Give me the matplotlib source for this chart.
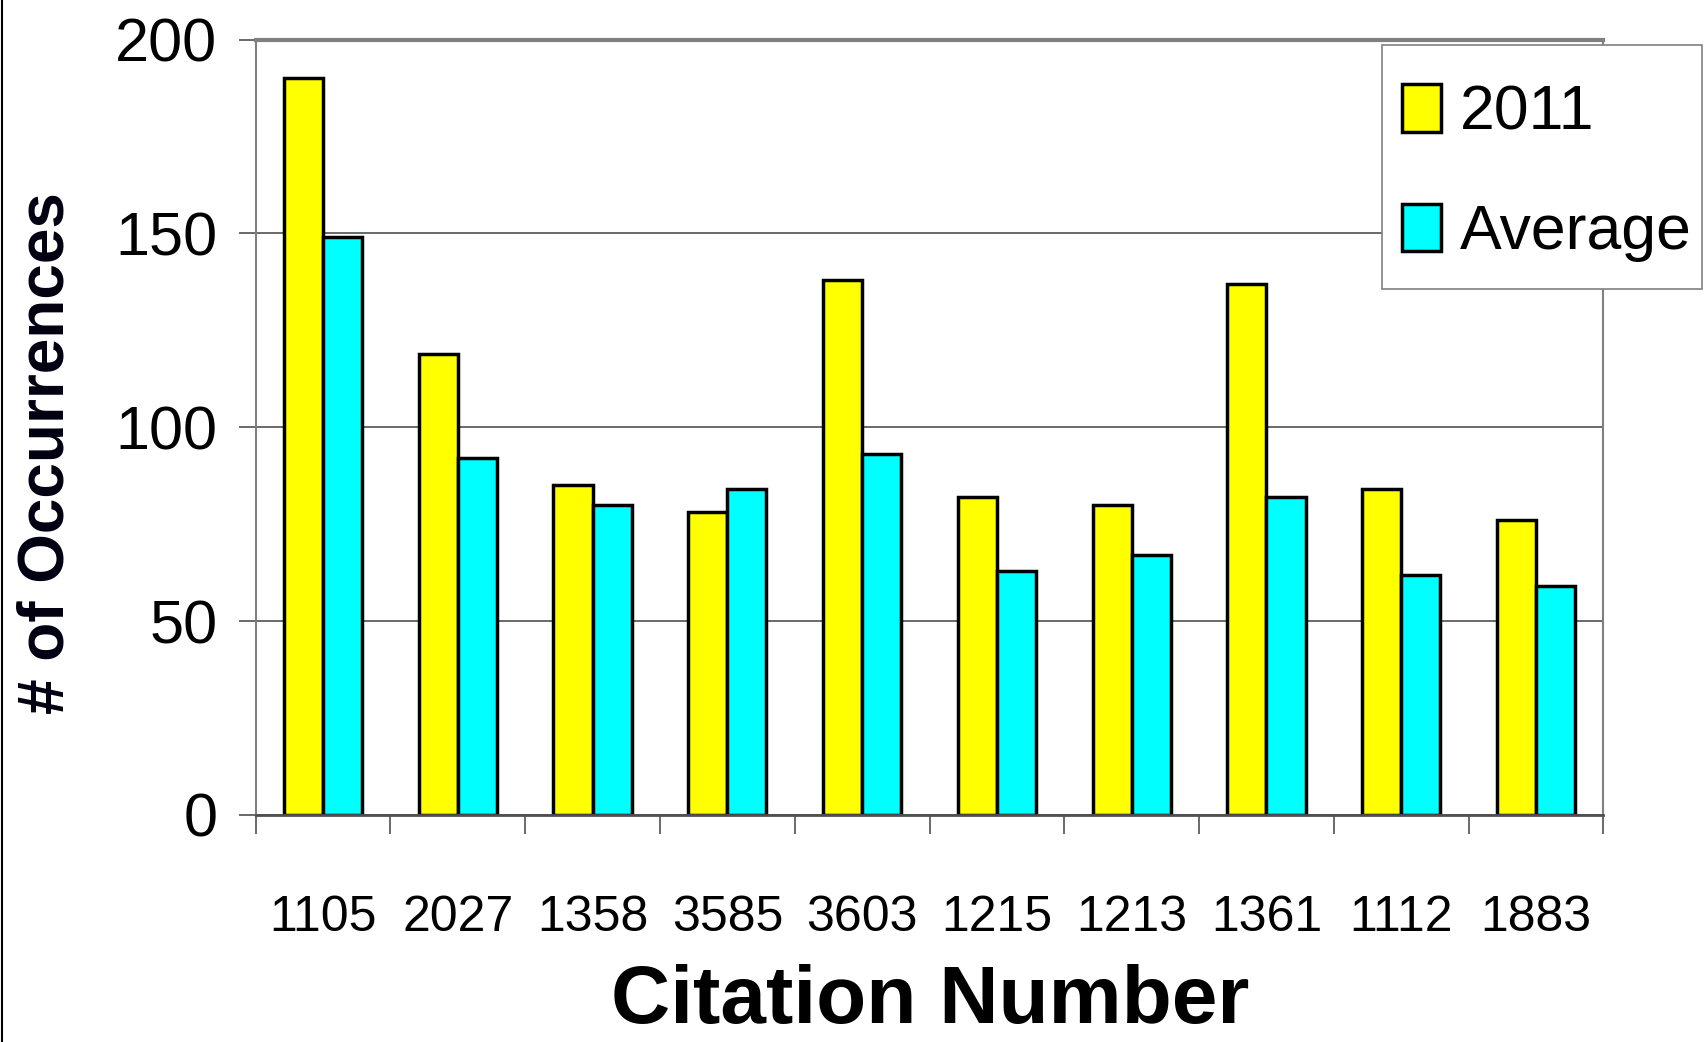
import numpy as np
import matplotlib
matplotlib.use("Agg")
import matplotlib.pyplot as plt
from matplotlib.lines import Line2D
from matplotlib.patches import Rectangle

# ---------- data ----------
citations = ["1105", "2027", "1358", "3585", "3603", "1215", "1213", "1361", "1112", "1883"]
occ_2011 = [190, 119, 85, 78, 138, 82, 80, 137, 84, 76]
occ_avg = [149, 92, 80, 84, 93, 63, 67, 82, 62, 59]
series_names = ["2011", "Average"]
yticks = [0, 50, 100, 150, 200]

plt.rcParams["font.family"] = ["Liberation Sans", "DejaVu Sans"]

fig = plt.figure(figsize=(17.04, 10.42), dpi=100)
ax = fig.add_axes([0.150, 0.218, 0.791, 0.744])

x = np.arange(len(citations))
w = 0.29
b1 = ax.bar(x - w / 2, occ_2011, w, color="#FFFF00", edgecolor="black", linewidth=2.5,
            label=series_names[0], zorder=3)
b2 = ax.bar(x + w / 2, occ_avg, w, color="#00FFFF", edgecolor="black", linewidth=2.5,
            label=series_names[1], zorder=3)

ax.set_xlim(-0.5, len(citations) - 0.5)
ax.set_ylim(0, 200)
ax.set_yticks(yticks)
ax.set_yticklabels([str(t) for t in yticks])
ax.yaxis.grid(True, color="#505050", linewidth=1.2, zorder=0)

# category labels in the middle, tick marks on the boundaries
ax.set_xticks(x)
ax.set_xticklabels(citations)
ax.set_xticks(np.arange(len(citations) + 1) - 0.5, minor=True)
ax.tick_params(axis="x", which="major", length=0, pad=58, labelsize=36)
ax.tick_params(axis="x", which="minor", length=14, width=1.2, color="#505050", direction="out")
ax.tick_params(axis="y", length=12.5, width=1.2, color="#505050", pad=15, labelsize=44)

for s in ["left", "right"]:
    ax.spines[s].set_color("#808080")
    ax.spines[s].set_linewidth(1.5)
ax.spines["top"].set_color("#808080")
ax.spines["top"].set_linewidth(3)
ax.spines["bottom"].set_color("#505050")
ax.spines["bottom"].set_linewidth(2)
ax.spines["bottom"].set_zorder(4)

fig.text(0.546, 0.038, "Citation Number", ha="center", va="center",
         fontsize=59, fontweight="bold")
fig.text(0.027, 0.565, "# of Occurrences", ha="center", va="center", rotation=90,
         fontsize=46, fontweight="bold", color="#000010")

# legend box (runs off the right edge, as in the original)
fig.add_artist(Rectangle((0.811, 0.723), 0.188, 0.234, transform=fig.transFigure,
                         facecolor="white", edgecolor="#808080", linewidth=1.2, zorder=4))
leg = fig.legend(handles=[b1, b2], loc="center left", bbox_to_anchor=(0.8228, 0.834),
                 fontsize=45, frameon=False,
                 handlelength=0.63, handleheight=0.8, handletextpad=0.3,
                 labelspacing=0.97, borderpad=0, borderaxespad=0)
leg.set_zorder(5)

# thin border line at the very left of the image
fig.add_artist(Line2D([0.001, 0.001], [0, 1], color="black", linewidth=1.5))

fig.savefig("out.png", dpi=100)
